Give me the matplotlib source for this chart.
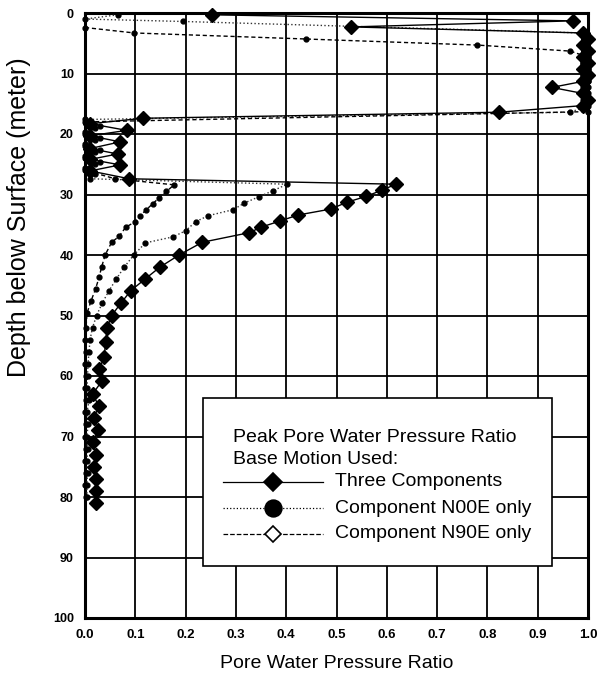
import matplotlib
matplotlib.use("Agg")
import matplotlib.pyplot as plt
from matplotlib.lines import Line2D
from matplotlib.patches import Rectangle

plt.rcParams['font.family'] = ['Liberation Sans', 'DejaVu Sans']

# Peak pore water pressure ratio profiles (depth in metres)
three_depth = [0.3, 1.3, 2.3, 3.3, 4.3, 5.3, 6.3, 7.3, 8.3, 9.3, 10.3, 11.3,
               12.3, 13.3, 14.3, 15.3, 16.4, 17.4, 18.3, 19.4, 20.3, 21.3,
               22.4, 23.3, 24.2, 25.1, 26.1, 27.4, 28.3, 29.3, 30.3, 31.3,
               32.4, 33.4, 34.4, 35.4, 36.3, 37.9, 40.0, 42.0, 44.0, 45.9,
               48.0, 50.0, 52.0, 54.4, 56.9, 58.9, 60.9, 63.0, 65.0, 66.9,
               69.0, 70.9, 73.0, 75.0, 77.0, 79.0, 81.0]
three_ratio = [0.252, 0.97, 0.529, 0.99, 1.0, 0.99, 1.0, 0.99, 1.0, 0.99, 1.0,
               0.99, 0.928, 0.99, 1.0, 0.99, 0.823, 0.115, 0.01, 0.083, 0.01,
               0.07, 0.01, 0.065, 0.01, 0.07, 0.01, 0.088, 0.618, 0.59, 0.559,
               0.52, 0.489, 0.423, 0.387, 0.35, 0.327, 0.233, 0.187, 0.149,
               0.119, 0.091, 0.071, 0.053, 0.044, 0.041, 0.038, 0.028, 0.033,
               0.015, 0.028, 0.017, 0.026, 0.016, 0.022, 0.018, 0.021, 0.021,
               0.021]

n00e_depth = [0.3, 1.0, 1.4, 3.3, 4.3, 5.3, 6.3, 7.3, 8.3, 9.3, 10.3, 11.3,
              12.3, 13.3, 14.3, 15.3, 16.4, 17.6, 18.6, 19.6, 20.6, 21.6,
              22.6, 23.6, 24.6, 25.6, 26.6, 27.4, 28.3, 29.4, 30.4, 31.4,
              32.5, 33.5, 34.5, 36.0, 37.0, 38.0, 40.0, 42.0, 44.0, 46.0,
              48.0, 50.0, 52.0, 54.0, 56.0, 58.0, 60.0, 62.0, 64.0, 66.0,
              68.0, 70.0, 72.0, 74.0, 76.0, 78.0, 80.0]
n00e_ratio = [0.065, 0.0, 0.195, 0.99, 1.0, 0.99, 1.0, 1.0, 0.99, 1.0, 0.99,
              1.0, 0.99, 1.0, 0.99, 1.0, 0.965, 0.0, 0.03, 0.0, 0.03, 0.0,
              0.03, 0.0, 0.03, 0.0, 0.02, 0.01, 0.402, 0.373, 0.345, 0.317,
              0.295, 0.245, 0.22, 0.2, 0.175, 0.12, 0.097, 0.078, 0.062,
              0.047, 0.034, 0.023, 0.015, 0.01, 0.008, 0.006, 0.005, 0.004,
              0.008, 0.004, 0.006, 0.004, 0.005, 0.004, 0.005, 0.004, 0.004]

n90e_depth = [2.4, 3.3, 4.3, 5.3, 6.3, 7.3, 8.3, 9.3, 10.3, 11.3, 12.3, 13.3,
              14.3, 15.3, 16.3, 18.0, 19.0, 20.0, 21.0, 22.0, 23.0, 24.0,
              25.0, 26.0, 27.4, 28.4, 29.5, 30.5, 31.5, 32.5, 33.5, 34.5,
              35.4, 36.9, 37.9, 40.0, 42.0, 43.7, 45.6, 47.6, 49.6, 52.0,
              54.0, 56.0, 58.0, 60.0, 62.0, 64.0, 66.0, 68.0, 70.0, 72.0,
              74.0, 76.0, 78.0, 80.0]
n90e_ratio = [0.0, 0.098, 0.44, 0.78, 0.965, 1.0, 0.99, 1.0, 0.99, 1.0, 1.0,
              0.99, 1.0, 0.99, 1.0, 0.0, 0.02, 0.0, 0.02, 0.0, 0.02, 0.0, 0.02,
              0.0, 0.06, 0.177, 0.162, 0.148, 0.135, 0.122, 0.11, 0.1, 0.081,
              0.068, 0.053, 0.04, 0.033, 0.028, 0.021, 0.012, 0.004, 0.002,
              0.0, 0.002, 0.0, 0.002, 0.0, 0.002, 0.0, 0.002, 0.0, 0.002, 0.0,
              0.002, 0.0, 0.002]

x_ticks = [0.0, 0.1, 0.2, 0.3, 0.4, 0.5, 0.6, 0.7, 0.8, 0.9, 1.0]
y_ticks = [0, 10, 20, 30, 40, 50, 60, 70, 80, 90, 100]

legend_title = ["Peak Pore Water Pressure Ratio", "Base Motion Used:"]
series_names = ["Three Components", "Component N00E only",
                "Component N90E only"]

fig = plt.figure(figsize=(5.99, 6.76), dpi=100)
ax = fig.add_axes([85 / 599, 1 - 618 / 676, 503 / 599, 605 / 676])

ax.set_xlim(0, 1.0)
ax.set_ylim(100, 0)
ax.set_xticks(x_ticks)
ax.set_yticks(y_ticks)
ax.set_xticklabels([f"{v:.1f}" for v in x_ticks], fontweight='bold',
                   fontsize=9.5)
ax.set_yticklabels([str(v) for v in y_ticks], fontweight='bold',
                   fontsize=9)
ax.tick_params(length=0, pad=8)
ax.grid(True, color='black', linewidth=1.3)
ax.set_axisbelow(True)
for sp in ax.spines.values():
    sp.set_linewidth(2.2)

ax.plot(n00e_ratio, n00e_depth, linestyle=':', color='#333333', linewidth=1.0,
        marker='o', markersize=3.5, markerfacecolor='black',
        markeredgecolor='black', clip_on=False, zorder=3)
ax.plot(n90e_ratio, n90e_depth, linestyle='--', color='black', linewidth=1.0,
        dashes=(3, 2), marker='o', markersize=3.5, markerfacecolor='black',
        markeredgecolor='black', clip_on=False, zorder=3)
ax.plot(three_ratio, three_depth, linestyle='-', color='black', linewidth=1.0,
        marker='D', markersize=7, markerfacecolor='black',
        markeredgecolor='black', clip_on=False, zorder=4)

ax.set_xlabel("Pore Water Pressure Ratio", fontsize=14, labelpad=10)
fig.text(19 / 599, 1 - 217 / 676, "Depth below Surface (meter)",
         rotation=90, fontsize=18, ha='center', va='center')

# Legend panel drawn in axes fraction coordinates
box = Rectangle((0.235, 0.086), 0.693, 0.278, transform=ax.transAxes,
                facecolor='white', edgecolor='black', linewidth=1.2,
                zorder=5)
ax.add_patch(box)
ax.text(0.295, 0.299, legend_title[0], transform=ax.transAxes, fontsize=14,
        va='center', ha='left', zorder=6)
ax.text(0.295, 0.262, legend_title[1], transform=ax.transAxes, fontsize=14,
        va='center', ha='left', zorder=6)
entry_y = [0.225, 0.181, 0.139]
styles = [dict(linestyle='-', marker='D', markersize=9, mfc='black'),
          dict(linestyle=':', marker='o', markersize=12, mfc='black'),
          dict(linestyle='--', marker='D', markersize=8, mfc='white')]
for yv, name, st in zip(entry_y, series_names, styles):
    ax.add_line(Line2D([0.274, 0.473], [yv, yv], transform=ax.transAxes,
                       color='black', linewidth=0.9,
                       linestyle=st['linestyle'], zorder=6))
    ax.add_line(Line2D([0.374], [yv], transform=ax.transAxes,
                       marker=st['marker'], markersize=st['markersize'],
                       markerfacecolor=st['mfc'], markeredgecolor='black',
                       markeredgewidth=1.2, linestyle='none', zorder=7))
    ax.text(0.497, yv, name, transform=ax.transAxes, fontsize=14,
            va='center', ha='left', zorder=6)

fig.savefig("out.png", dpi=100)
